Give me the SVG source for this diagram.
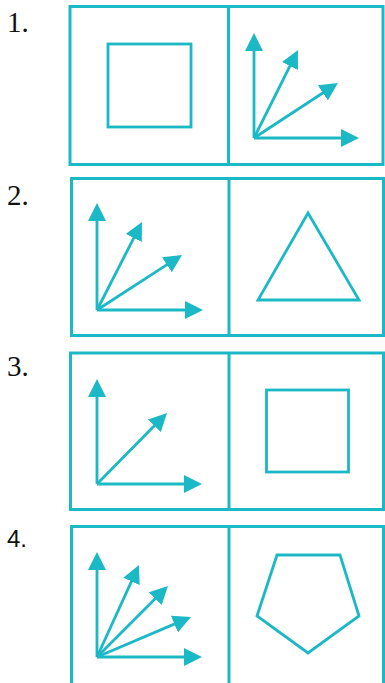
<svg xmlns="http://www.w3.org/2000/svg" width="385" height="683" viewBox="0 0 385 683">
<style>
.box{fill:none;stroke:#1bb9c5;stroke-width:3}
.div{stroke:#1bb9c5;stroke-width:3}
.shape{fill:none;stroke:#1bb9c5;stroke-width:2.8;stroke-linejoin:miter}
.arr{stroke:#1bb9c5;stroke-width:2.8;fill:none;marker-end:url(#head)}
.serif{font-family:"Liberation Serif","Times New Roman",serif;font-size:29px;fill:#111}
.sans{font-family:"Liberation Sans",Arial,sans-serif;font-size:24px;fill:#111}
</style>
<defs>
<marker id="head" markerUnits="userSpaceOnUse" markerWidth="18" markerHeight="18" refX="8" refY="9" orient="auto" viewBox="0 0 18 18">
<path d="M0,0 L18,9 L0,18 z" fill="#1bb9c5"/>
</marker>
</defs>
<rect width="385" height="683" fill="#fff"/>

<g id="option-1">
<text class="serif" x="7" y="32">1.</text>
<rect class="box" x="70" y="6.5" width="313" height="158"/>
<line class="div" x1="228.5" y1="6.5" x2="228.5" y2="164.5"/>
<g id="opt1-left"><rect class="shape" x="108" y="44" width="83" height="83"/></g>
<g id="opt1-right">
<line class="arr" x1="254" y1="138" x2="254" y2="43"/>
<line class="arr" x1="254" y1="138" x2="293.5" y2="58.9"/>
<line class="arr" x1="254" y1="138" x2="329.6" y2="88.5"/>
<line class="arr" x1="254" y1="138" x2="349" y2="138"/>
</g>
</g>

<g id="option-2">
<text class="serif" x="7" y="205">2.</text>
<rect class="box" x="71.5" y="178.5" width="312" height="157"/>
<line class="div" x1="229" y1="178.5" x2="229" y2="335.5"/>
<g id="opt2-left">
<line class="arr" x1="97" y1="310" x2="97" y2="213"/>
<line class="arr" x1="97" y1="310" x2="137.4" y2="230.9"/>
<line class="arr" x1="97" y1="310" x2="173.6" y2="260.4"/>
<line class="arr" x1="97" y1="310" x2="193" y2="310"/>
</g>
<g id="opt2-right"><polygon class="shape" points="308,213 359,300 258,300"/></g>
</g>

<g id="option-3">
<text class="serif" x="7" y="376">3.</text>
<rect class="box" x="70.5" y="353" width="313" height="156.5"/>
<line class="div" x1="229" y1="353" x2="229" y2="509.5"/>
<g id="opt3-left">
<line class="arr" x1="97" y1="484" x2="97" y2="389"/>
<line class="arr" x1="97" y1="484" x2="160" y2="420.1"/>
<line class="arr" x1="97" y1="484" x2="192" y2="484"/>
</g>
<g id="opt3-right"><rect class="shape" x="266.5" y="390" width="82" height="82"/></g>
</g>

<g id="option-4">
<text class="sans" x="7" y="547">4.</text>
<rect class="box" x="71.5" y="526.5" width="312" height="170"/>
<line class="div" x1="229" y1="526.5" x2="229" y2="690"/>
<g id="opt4-left">
<line class="arr" x1="97" y1="657" x2="97" y2="562"/>
<line class="arr" x1="97" y1="657" x2="134.8" y2="574.1"/>
<line class="arr" x1="97" y1="657" x2="160.9" y2="593.1"/>
<line class="arr" x1="97" y1="657" x2="181.8" y2="620.9"/>
<line class="arr" x1="97" y1="657" x2="192" y2="657"/>
</g>
<g id="opt4-right"><polygon class="shape" points="277,555 340,555 359,616 308,653 257,616"/></g>
</g>
</svg>
